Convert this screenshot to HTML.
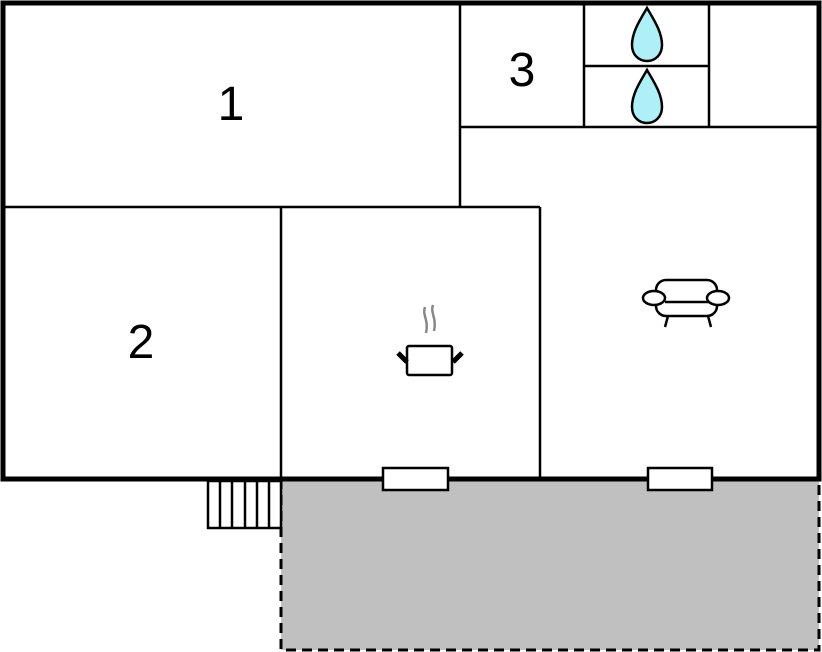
<!DOCTYPE html>
<html><head><meta charset="utf-8"><style>html,body{margin:0;padding:0;background:#fff;width:822px;height:652px;overflow:hidden}</style></head>
<body>
<svg width="822" height="652" viewBox="0 0 822 652" xmlns="http://www.w3.org/2000/svg">
<rect x="281" y="479" width="538" height="171" fill="#c0c0c0" stroke="#000" stroke-width="3" stroke-dasharray="10,6"/>
<rect x="3" y="3" width="816" height="476" fill="#fff" stroke="none"/>
<g stroke="#000" stroke-width="2.5" fill="none">
<line x1="3" y1="207" x2="540" y2="207"/>
<line x1="460" y1="3" x2="460" y2="207"/>
<line x1="460" y1="127" x2="819" y2="127"/>
<line x1="584" y1="3" x2="584" y2="127"/>
<line x1="709" y1="3" x2="709" y2="127"/>
<line x1="584" y1="66" x2="709" y2="66"/>
<line x1="281" y1="207" x2="281" y2="479"/>
<line x1="540" y1="207" x2="540" y2="479"/>
</g>
<rect x="3" y="3" width="816" height="476" fill="none" stroke="#000" stroke-width="5"/>
<g stroke="#000" stroke-width="2.5" fill="#fff">
<rect x="383" y="468" width="65" height="22"/>
<rect x="648" y="468" width="64" height="22"/>
<rect x="208" y="481" width="73" height="47"/>
</g>
<g stroke="#000" stroke-width="2.5">
<line x1="220" y1="481" x2="220" y2="528"/>
<line x1="232" y1="481" x2="232" y2="528"/>
<line x1="245" y1="481" x2="245" y2="528"/>
<line x1="257" y1="481" x2="257" y2="528"/>
<line x1="269" y1="481" x2="269" y2="528"/>
</g>
<g fill="#aff0f8" stroke="#000" stroke-width="2.5">
<path d="M647,8 C640,20 632,32 632,45 C632,55 639,61 647,61 C655,61 662,55 662,45 C662,32 654,20 647,8 Z"/>
<path d="M647,70 C640,82 632,94 632,107 C632,117 639,123 647,123 C655,123 662,117 662,107 C662,94 654,82 647,70 Z"/>
</g>
<g font-family="Liberation Sans, sans-serif" font-size="48" fill="#000" text-anchor="middle">
<text x="231" y="120">1</text>
<text x="141" y="358">2</text>
<text x="522" y="86">3</text>
</g>
<g stroke="#888" stroke-width="2.5" fill="none">
<path d="M425,307 C422,315 429,320 426,333"/>
<path d="M433,305 C430,313 437,318 434,331"/>
</g>
<rect x="407" y="346" width="45" height="29" rx="2" fill="#fff" stroke="#000" stroke-width="2.5"/>
<line x1="398" y1="353" x2="407" y2="362" stroke="#000" stroke-width="5"/>
<line x1="462" y1="353" x2="453" y2="362" stroke="#000" stroke-width="5"/>
<g stroke="#000" stroke-width="2.5" fill="#fff">
<rect x="656" y="280" width="61" height="36" rx="10"/>
<line x1="665" y1="302" x2="710" y2="302"/>
<line x1="668" y1="316" x2="665" y2="327"/>
<line x1="708" y1="316" x2="711" y2="327"/>
<ellipse cx="654" cy="298" rx="11" ry="7"/>
<ellipse cx="718" cy="298" rx="11" ry="7"/>
</g>
</svg>
</body></html>
